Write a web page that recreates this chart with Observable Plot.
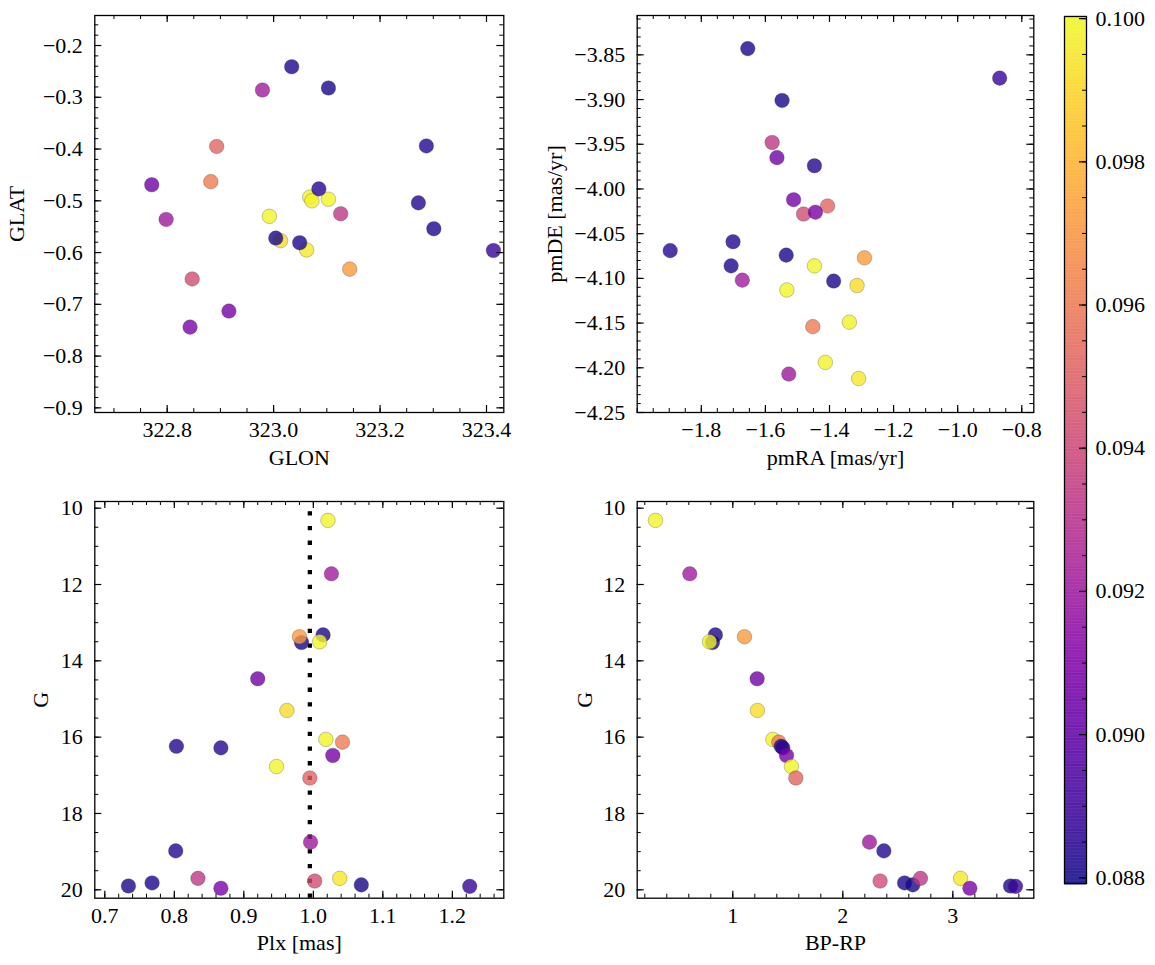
<!DOCTYPE html>
<html><head><meta charset="utf-8">
<script src="https://cdn.jsdelivr.net/npm/d3@7"></script>
<script src="https://cdn.jsdelivr.net/npm/@observablehq/plot@0.6"></script>
<style>
html,body{margin:0;padding:0;background:#fff;}
#fig{position:relative;width:1155px;height:965px;overflow:hidden;background:#fff;}
#fig svg{position:absolute;overflow:visible;}
#fig svg text{font-family:'Liberation Serif','DejaVu Serif',serif !important;font-variant:normal !important;}
</style></head><body><div id="fig"></div>
<script>
// ---- data (one entry per star) ----
const glon = [323.103,322.979,323.034,323.103,323.068,323.143,322.771,323.013,323.072,322.882,323.287,323.085,322.916,322.992,322.893,322.798,323.272,322.847,323.301,323.004,323.126,323.062,322.843,323.049,323.413];
const glat = [-0.497,-0.286,-0.241,-0.282,-0.493,-0.632,-0.469,-0.577,-0.500,-0.463,-0.394,-0.477,-0.713,-0.530,-0.395,-0.536,-0.504,-0.651,-0.554,-0.572,-0.525,-0.595,-0.744,-0.581,-0.596];
const pmra = [-1.533,-1.672,-1.655,-1.548,-1.447,-1.291,-1.564,-1.314,-1.338,-1.452,-1.447,-1.897,-1.512,-1.413,-1.406,-1.527,-1.701,-1.481,-1.707,-1.535,-1.579,-1.309,-1.444,-1.387,-0.869];
const pmde = [-4.113,-4.102,-3.843,-3.901,-4.086,-4.077,-3.965,-4.108,-4.149,-4.154,-3.974,-4.069,-4.012,-4.194,-4.019,-4.207,-4.059,-4.028,-4.086,-4.074,-3.948,-4.212,-4.026,-4.103,-3.876];
const plx  = [1.021,1.026,1.014,0.983,1.009,0.980,0.920,0.962,1.018,1.042,0.803,0.867,1.028,0.947,0.995,0.996,0.802,1.002,0.768,1.069,0.834,1.038,0.867,0.734,1.225];
const gmag = [10.32,11.72,13.32,13.52,13.50,13.37,14.47,15.30,16.06,16.13,16.24,16.28,16.48,16.77,17.07,18.75,18.98,19.77,19.82,19.87,19.70,19.70,19.96,19.90,19.91];
const bprp = [0.297,0.609,0.842,0.815,0.788,1.106,1.221,1.224,1.364,1.418,1.440,1.455,1.488,1.533,1.573,2.242,2.373,2.339,2.561,2.636,2.706,3.070,3.155,3.524,3.570];
const cval = [0.0999,0.0921,0.0882,0.0881,0.0999,0.0972,0.0906,0.0992,0.0998,0.0961,0.0883,0.0884,0.0907,0.0999,0.0952,0.0920,0.0883,0.0942,0.0882,0.0881,0.0933,0.0996,0.0908,0.0882,0.0888];

// ---- axis limits and tick labels ----
const glonDom = [322.664, 323.4325], glatDom = [-0.909, -0.142];
const pmraDom = [-2.0, -0.7625], pmdeDom = [-4.25, -3.806];
const plxDom = [0.6856, 1.274], gDom = [20.22, 9.825];
const bprpDom = [0.131, 3.736];
const cDom = [0.08792, 0.10003];
const glonTicks = [322.8, 323.0, 323.2, 323.4];
const glatTicks = [-0.2, -0.3, -0.4, -0.5, -0.6, -0.7, -0.8, -0.9];
const pmraTicks = [-1.8, -1.6, -1.4, -1.2, -1.0, -0.8];
const pmdeTicks = [-3.85, -3.90, -3.95, -4.00, -4.05, -4.10, -4.15, -4.20, -4.25];
const plxTicks = [0.7, 0.8, 0.9, 1.0, 1.1, 1.2];
const gTicks = [10, 12, 14, 16, 18, 20];
const bprpTicks = [1, 2, 3];
const cTicks = [0.088, 0.090, 0.092, 0.094, 0.096, 0.098, 0.100];

const FONT = "'Liberation Serif', 'DejaVu Serif', serif";
const FS = "22px";
const stars = d3.range(cval.length).map(i => ({glon: glon[i], glat: glat[i], pmra: pmra[i], pmde: pmde[i], plx: plx[i], g: gmag[i], bprp: bprp[i], c: cval[i]}));

function minors(dom, step) {
  const lo = Math.min(...dom), hi = Math.max(...dom);
  return d3.range(Math.ceil(lo / step - 1e-9), Math.floor(hi / step + 1e-9) + 1).map(i => +(i * step).toFixed(10));
}
function inDom(arr, dom) {
  const lo = Math.min(...dom), hi = Math.max(...dom);
  return arr.filter(v => v >= lo - 1e-9 && v <= hi + 1e-9);
}

const fig = document.getElementById("fig");

function panel(o) {
  const iw = o.w - o.ml - o.mr, ih = o.h - o.mt - o.mb;
  const xMaj = inDom(o.xTicks, o.xDom), yMaj = inDom(o.yTicks, o.yDom);
  const xMin = minors(o.xDom, o.xStep), yMin = minors(o.yDom, o.yStep);
  const chart = Plot.plot({
    width: o.w, height: o.h,
    marginLeft: o.ml, marginRight: o.mr, marginTop: o.mt, marginBottom: o.mb,
    x: {domain: o.xDom}, y: {domain: o.yDom},
    color: {type: "linear", scheme: "plasma", domain: cDom},
    style: {fontFamily: FONT, fontSize: FS, background: "transparent", color: "black"},
    marks: [
      ...(o.extra || []),
      Plot.dot(stars, {x: o.xk, y: o.yk, r: 7.3, fill: "c", fillOpacity: 0.8, stroke: "#333", strokeWidth: 0.5, strokeOpacity: 0.55}),
      Plot.frame({stroke: "black", strokeWidth: 1.3}),
      Plot.tickX(xMin, {x: d => d, insetTop: ih - 4, strokeWidth: 1}),
      Plot.tickX(xMin, {x: d => d, insetBottom: ih - 4, strokeWidth: 1}),
      Plot.tickX(xMaj, {x: d => d, insetTop: ih - 7, strokeWidth: 1.2}),
      Plot.tickX(xMaj, {x: d => d, insetBottom: ih - 7, strokeWidth: 1.2}),
      Plot.tickY(yMin, {y: d => d, insetRight: iw - 4, strokeWidth: 1}),
      Plot.tickY(yMin, {y: d => d, insetLeft: iw - 4, strokeWidth: 1}),
      Plot.tickY(yMaj, {y: d => d, insetRight: iw - 7, strokeWidth: 1.2}),
      Plot.tickY(yMaj, {y: d => d, insetLeft: iw - 7, strokeWidth: 1.2}),
      Plot.axisX({ticks: xMaj, anchor: "bottom", tickSize: 0, tickPadding: 9, tickFormat: o.xFmt, label: null, fontFamily: FONT, fontSize: 22}),
      Plot.axisY({ticks: yMaj, anchor: "left", tickSize: 0, tickPadding: 12, tickFormat: o.yFmt, label: null, fontFamily: FONT, fontSize: 22}),
      Plot.text([o.xLabel], {text: d => d, frameAnchor: "bottom", lineAnchor: "middle", textAnchor: "middle", dy: 45, fontFamily: FONT, fontSize: 22}),
      Plot.text([o.yLabel], {text: d => d, frameAnchor: "left", lineAnchor: "middle", textAnchor: "middle", rotate: -90, dx: o.yLabelDx, fontFamily: FONT, fontSize: 22})
    ]
  });
  chart.style.left = o.left + "px";
  chart.style.top = o.top + "px";
  fig.appendChild(chart);
}

const f1 = d3.format(".1f"), f2 = d3.format(".2f"), f0 = d3.format("d");

panel({left: 0, top: 0, w: 520, h: 480, ml: 94.3, mr: 16.7, mt: 15, mb: 68,
  xk: "glon", yk: "glat", xDom: glonDom, yDom: glatDom,
  xTicks: glonTicks, yTicks: glatTicks, xStep: 0.05, yStep: 0.02, xFmt: f1, yFmt: f1,
  xLabel: "GLON", yLabel: "GLAT", yLabelDx: -78});

panel({left: 520, top: 0, w: 530, h: 480, ml: 116.7, mr: 16.7, mt: 15, mb: 68,
  xk: "pmra", yk: "pmde", xDom: pmraDom, yDom: pmdeDom,
  xTicks: pmraTicks, yTicks: pmdeTicks, xStep: 0.05, yStep: 0.01, xFmt: f1, yFmt: f2,
  xLabel: "pmRA [mas/yr]", yLabel: "pmDE [mas/yr]", yLabelDx: -82});

const plxMedian = d3.median(plx);
panel({left: 0, top: 480, w: 520, h: 485, ml: 94.3, mr: 16.7, mt: 21, mb: 67.3,
  xk: "plx", yk: "g", xDom: plxDom, yDom: gDom,
  xTicks: plxTicks, yTicks: gTicks, xStep: 0.02, yStep: 0.5, xFmt: f1, yFmt: f0,
  xLabel: "Plx [mas]", yLabel: "G", yLabelDx: -54,
  extra: [Plot.ruleX([plxMedian], {x: d => d, y1: gDom[0], y2: gDom[1], stroke: "black", strokeWidth: 4.3, strokeDasharray: "4.3 10.4"})]});

panel({left: 520, top: 480, w: 530, h: 485, ml: 116.7, mr: 16.7, mt: 21, mb: 67.3,
  xk: "bprp", yk: "g", xDom: bprpDom, yDom: gDom,
  xTicks: bprpTicks, yTicks: gTicks, xStep: 0.2, yStep: 0.5, xFmt: f0, yFmt: f0,
  xLabel: "BP-RP", yLabel: "G", yLabelDx: -52});

// ---- colorbar ----
const nSl = 600;
const slices = d3.range(nSl + 1).map(i => cDom[0] + (cDom[1] - cDom[0]) * i / nSl);
const cbW = 22;
const cb = Plot.plot({
  width: 115, height: 965, marginLeft: 24, marginRight: 115 - 24 - cbW, marginTop: 16, marginBottom: 82,
  y: {domain: cDom},
  color: {type: "linear", scheme: "plasma", domain: cDom},
  style: {fontFamily: FONT, fontSize: FS, background: "transparent", color: "black"},
  marks: [
    Plot.tickY(slices, {y: d => d, stroke: d => d, strokeWidth: 2, opacity: 0.8}),
    Plot.frame({stroke: "black", strokeWidth: 1.3}),
    Plot.tickY(inDom(minors(cDom, 0.0005), cDom), {y: d => d, insetLeft: cbW - 4, strokeWidth: 1}),
    Plot.tickY(cTicks, {y: d => d, insetLeft: cbW - 7, strokeWidth: 1.2}),
    Plot.axisY({ticks: cTicks, anchor: "right", tickSize: 0, tickPadding: 9, tickFormat: d3.format(".3f"), label: null, fontFamily: FONT, fontSize: 22})
  ]
});
cb.style.left = "1040px";
cb.style.top = "0px";
fig.appendChild(cb);
</script>
</body></html>
